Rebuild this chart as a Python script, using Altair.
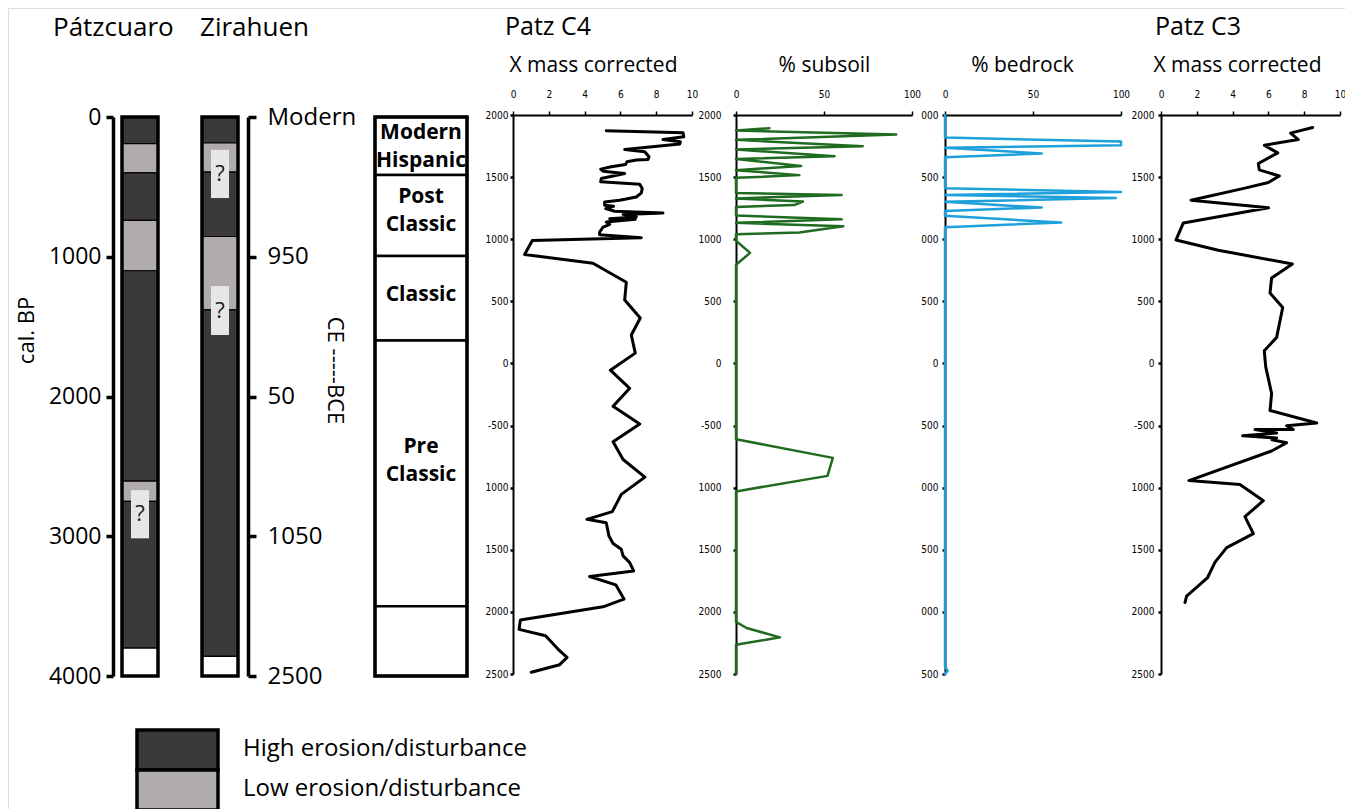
import altair as alt
import pandas as pd

FONT = "Open Sans"
NARROW = "Liberation Sans Narrow, DejaVu Sans Condensed, sans-serif"
W, H = 1337, 801

# ---------------- core columns (cal. BP) ----------------
CORES = ["Pátzcuaro", "Zirahuen"]
PATZ_TOP = [0, 190, 400, 740, 1100, 2605, 2750, 3800]
PATZ_BOT = [190, 400, 740, 1100, 2605, 2750, 3800, 4000]
PATZ_CLASS = ["High", "Low", "High", "Low", "High", "Low", "High", "None"]
ZIR_TOP = [0, 185, 395, 855, 1380, 3860]
ZIR_BOT = [185, 395, 855, 1380, 3860, 4000]
ZIR_CLASS = ["High", "Low", "High", "Low", "High", "None"]
Q_CORE = ["Pátzcuaro", "Zirahuen", "Zirahuen"]
Q_TOP = [2670, 235, 1210]
Q_BOT = [3015, 580, 1560]
BP_TICKS = [0, 1000, 2000, 3000, 4000]
BP_LABELS = ["0", "1000", "2000", "3000", "4000"]
CE_LABELS = ["Modern", "950", "50", "1050", "2500"]

CLASSES = ["High", "Low", "None"]
CLASS_COLORS = ["#3b3a39", "#b0acab", "#ffffff"]
LEGEND_LABELS = ["High erosion/disturbance", "Low erosion/disturbance"]

# ---------------- cultural periods ----------------
PERIODS = ["Modern\nHispanic", "Post\nClassic", "Classic", "Pre\nClassic", ""]
PERIOD_TOP = [0, 415, 995, 1600, 3500]
PERIOD_BOT = [415, 995, 1600, 3500, 4000]
PERIOD_LABEL_BP = [112, 572, 1274, 2361, 3750]   # anchor of first text line

# ---------------- sediment records (year CE/BCE) ----------------
YEAR_TICKS = [2000, 1500, 1000, 500, 0, -500, -1000, -1500, -2000, -2500]
C4_YLABELS = ["2000", "1500", "1000", "500", "0", "-500", "1000", "1500", "2000", "2500"]
SUB_YLABELS = ["2000", "1500", "1000", "500", "0", "-500", "1000", "1500", "2000", "2500"]
BED_YLABELS = ["000", "500", "000", "500", "0", "500", "000", "500", "000", "500"]
C3_YLABELS = ["2000", "1500", "1000", "500", "0", "-500", "1000", "1500", "2000", "2500"]
X10_TICKS = [0, 2, 4, 6, 8, 10]
X100_TICKS = [0, 50, 100]

C4_YEAR = [1873, 1857, 1825, 1803, 1785, 1766, 1723, 1704, 1664, 1642, 1637, 1623, 1602, 1583,
           1564, 1548, 1529, 1489, 1462, 1454, 1443, 1408, 1373, 1340, 1314, 1300, 1273, 1265,
           1246, 1225, 1211, 1200, 1179, 1165, 1160, 1139, 1120, 1098, 1058, 1036, 1012, 990,
           877, 807, 654, 511, 366, 229, 83, -54, -200, -345, -487, -631, -773, -915, -1054,
           -1193, -1255, -1282, -1389, -1450, -1496, -1549, -1603, -1670, -1715, -1782, -1897,
           -1959, -2066, -2141, -2192, -2299, -2366, -2425, -2486]
C4_VAL = [5.21, 9.50, 9.54, 8.38, 9.35, 9.31, 6.24, 7.36, 7.60, 7.54, 6.89, 6.37, 6.29, 5.49,
          4.90, 5.03, 6.24, 4.93, 4.90, 5.77, 7.08, 7.22, 7.17, 6.89, 5.96, 5.12, 5.12, 5.62,
          5.18, 5.68, 8.38, 6.15, 6.89, 5.40, 6.83, 5.21, 5.40, 5.03, 4.84, 4.84, 7.17, 1.08,
          0.65, 4.47, 6.33, 6.24, 7.11, 6.61, 6.83, 5.44, 6.52, 5.59, 7.08, 5.59, 6.15, 7.37,
          6.05, 5.55, 4.13, 5.21, 5.36, 5.59, 6.05, 6.15, 6.52, 6.74, 4.28, 5.74, 6.20, 5.03,
          0.41, 0.34, 1.82, 2.51, 3.02, 2.61, 1.02]

SUB_YEAR = [1894, 1875, 1843, 1800, 1748, 1722, 1668, 1645, 1590, 1556, 1516, 1494, 1372, 1356,
            1328, 1303, 1275, 1260, 1190, 1160, 1132, 1105, 1055, 1040, 988, 890, 795, -610,
            -760, -905, -1030, -2080, -2130, -2205, -2265, -2500]
SUB_VAL = [19, 0, 91, 0, 72, 0, 56, 0, 37, 0, 36, 0, 0, 60, 0, 38, 33, 0, 0, 60, 0, 61, 36, 0,
           0, 8, 0, 0, 55, 52, 0, 0, 6, 25, 0, 0]

BED_YEAR = [2000, 1818, 1787, 1757, 1736, 1690, 1660, 1410, 1380, 1356, 1331, 1301, 1255, 1228,
            1188, 1134, 1097, -2440, -2475, -2500]
BED_VAL = [0, 0, 100, 100, 0, 55, 0, 0, 100, 0, 97, 0, 55, 0, 0, 66, 0, 0, 1.5, 0]

C3_YEAR = [1899, 1854, 1802, 1756, 1695, 1610, 1558, 1509, 1457, 1411, 1314, 1253, 1131, 994,
           911, 801, 688, 567, 451, 210, 103, -28, -242, -379, -480, -501, -532, -532, -560,
           -583, -600, -615, -638, -705, -943, -974, -1105, -1233, -1370, -1483, -1599, -1727,
           -1874, -1925]
C3_VAL = [8.47, 7.24, 7.67, 5.77, 6.52, 5.44, 5.49, 6.61, 6.0, 4.69, 1.68, 6.01, 1.25, 0.84,
          3.2, 7.34, 6.18, 6.09, 6.80, 6.46, 5.77, 5.85, 6.18, 6.09, 8.70, 7.02, 7.39, 5.25,
          6.46, 4.56, 6.46, 6.2, 7.02, 6.18, 1.56, 4.41, 5.72, 4.69, 5.16, 3.67, 3.02, 2.59,
          1.43, 1.34]

HEADERS = ["Pátzcuaro", "Zirahuen", "Patz C4", "Patz C3"]


def lab_expr(values, labels):
    expr = "''"
    for v, l in reversed(list(zip(values, labels))):
        expr = f"datum.value == {v} ? '{l}' : ({expr})"
    return expr


# ---------------- scales ----------------
BP_SCALE = alt.Scale(domain=[0, 4000], range=[109, 668], nice=False, zero=False)
CORE_SCALE = alt.Scale(domain=CORES, range=[114, 230], paddingInner=0.55, paddingOuter=0)
PER_SCALE = alt.Scale(domain=["Period"], range=[367, 459], paddingInner=0, paddingOuter=0)
CLASS_SCALE = alt.Scale(domain=CLASSES, range=CLASS_COLORS)

common_axis = dict(grid=False, labelColor="black", tickColor="black", domainColor="black",
                   labelFlush=False, labelOverlap=False)

BP_AXIS = alt.Axis(orient="left", offset=-105, values=BP_TICKS,
                   labelExpr=lab_expr(BP_TICKS, BP_LABELS), labelFont=FONT, labelFontSize=23,
                   labelPadding=5, tickSize=7, tickWidth=3.5, domainWidth=3.5,
                   title="cal. BP", titleFont=FONT, titleFontSize=22, titleFontWeight="normal",
                   titleColor="black", titleAngle=270, titleX=-87, titleY=322,
                   titleAlign="center", titleBaseline="middle", **common_axis)
CE_AXIS = alt.Axis(orient="right", offset=240 - W, values=BP_TICKS,
                   labelExpr=lab_expr(BP_TICKS, CE_LABELS), labelFont=FONT, labelFontSize=24,
                   labelAlign="left", labelPadding=11, tickSize=8, tickWidth=3.5, domainWidth=3.5,
                   title="CE -----BCE", titleFont=FONT, titleFontSize=22, titleFontWeight="normal",
                   titleColor="black", titleAngle=90, titleX=86, titleY=362,
                   titleAlign="center", titleBaseline="middle", **common_axis)


def core_layer(name, tops, bots, classes, axis):
    seg = pd.DataFrame({"core": name, "top": tops, "bot": bots, "cls": classes})
    qd = pd.DataFrame({"core": [c for c in Q_CORE if c == name],
                       "top": [t for c, t in zip(Q_CORE, Q_TOP) if c == name],
                       "bot": [b for c, b in zip(Q_CORE, Q_BOT) if c == name]})
    qd["mid"] = (qd["top"] + qd["bot"]) / 2
    qd["q"] = "?"
    out = pd.DataFrame({"core": [name], "top": [0], "bot": [4000]})
    x = alt.X("core:N", scale=CORE_SCALE, axis=None)
    segs = alt.Chart(seg).mark_bar(stroke="black", strokeWidth=1.2).encode(
        x=x, y=alt.Y("top:Q", scale=BP_SCALE, axis=axis), y2="bot:Q",
        color=alt.Color("cls:N", scale=CLASS_SCALE, legend=None))
    outline = alt.Chart(out).mark_bar(fillOpacity=0, stroke="black", strokeWidth=3.5).encode(
        x=x, y=alt.Y("top:Q", scale=BP_SCALE, axis=axis), y2="bot:Q")
    qbox = alt.Chart(qd).mark_bar(width=18, color="#e6e6e6").encode(
        x=x, y=alt.Y("top:Q", scale=BP_SCALE, axis=axis), y2="bot:Q")
    qtxt = alt.Chart(qd).mark_text(font=FONT, fontSize=22, color="#1a1a1a", baseline="middle").encode(
        x=x, y=alt.Y("mid:Q", scale=BP_SCALE, axis=axis), text="q:N")
    return alt.layer(segs, outline, qbox, qtxt)


patz = core_layer("Pátzcuaro", PATZ_TOP, PATZ_BOT, PATZ_CLASS, BP_AXIS)
zir = core_layer("Zirahuen", ZIR_TOP, ZIR_BOT, ZIR_CLASS, CE_AXIS)

# periods column
per_df = pd.DataFrame({"col": "Period", "top": PERIOD_TOP, "bot": PERIOD_BOT,
                       "name": PERIODS, "mid": PERIOD_LABEL_BP})
per_x = alt.X("col:N", scale=PER_SCALE, axis=None)
per_rects = alt.Chart(per_df).mark_bar(fill="white", stroke="black", strokeWidth=2.5).encode(
    x=per_x, y=alt.Y("top:Q", scale=BP_SCALE, axis=None), y2="bot:Q")
per_out = alt.Chart(pd.DataFrame({"col": ["Period"], "top": [0], "bot": [4000]})).mark_bar(
    fillOpacity=0, stroke="black", strokeWidth=3.5).encode(
    x=per_x, y=alt.Y("top:Q", scale=BP_SCALE, axis=None), y2="bot:Q")
per_txt = alt.Chart(per_df).mark_text(font=FONT, fontSize=21, fontWeight="bold", lineBreak="\n",
                                      lineHeight=28, baseline="middle", color="black").encode(
    x=per_x, y=alt.Y("mid:Q", scale=BP_SCALE, axis=None), text="name:N")
periods = alt.layer(per_rects, per_out, per_txt)

YTOP, YBOT = 107, 666


def line_panel(vals, years, xdom, xr, xticks, title, title_cx, color, sw, ylabels, lpad):
    df = pd.DataFrame({"v": vals, "yr": years, "i": list(range(len(vals)))})
    xaxis = alt.Axis(orient="top", offset=-YTOP, values=xticks, labelFont=NARROW, labelFontSize=10,
                     labelPadding=12, tickSize=4, tickWidth=1.5, domainWidth=2,
                     title=title, titleFont=FONT, titleFontSize=21, titleFontWeight="normal",
                     titleColor="black", titleX=title_cx, titleY=-50, titleAlign="center",
                     titleBaseline="middle", **common_axis)
    yaxis = alt.Axis(orient="left", offset=-xr[0], values=YEAR_TICKS,
                     labelExpr=lab_expr(YEAR_TICKS, ylabels), labelFont=NARROW, labelFontSize=10,
                     labelPadding=lpad, tickSize=3, tickWidth=2.5, domainWidth=2, title=None,
                     **common_axis)
    return alt.Chart(df).mark_line(color=color, strokeWidth=sw, strokeJoin="round",
                                   strokeCap="round").encode(
        x=alt.X("v:Q", scale=alt.Scale(domain=xdom, range=xr, nice=False, zero=False), axis=xaxis),
        y=alt.Y("yr:Q", scale=alt.Scale(domain=[-2500, 2000], range=[YBOT, YTOP], nice=False,
                                        zero=False), axis=yaxis),
        order="i:Q")


c4 = line_panel(C4_VAL, C4_YEAR, [0, 10], [505, 684], X10_TICKS, "X mass corrected", 585,
                "black", 3, C4_YLABELS, 2)
sub = line_panel(SUB_VAL, SUB_YEAR, [0, 100], [728, 904], X100_TICKS, "% subsoil", 816,
                 "#1f6b1f", 2.5, SUB_YLABELS, 12)
bed = line_panel(BED_VAL, BED_YEAR, [0, 100], [937, 1113], X100_TICKS, "% bedrock", 1014,
                 "#1ea0da", 2.5, BED_YLABELS, 4)
c3 = line_panel(C3_VAL, C3_YEAR, [0, 10], [1153, 1332], X10_TICKS, "X mass corrected", 1229,
                "black", 3, C3_YLABELS, 4)


def header(text, x, y, size):
    return alt.Chart(pd.DataFrame({"t": [text]})).mark_text(
        font=FONT, fontSize=size, align="left", baseline="middle", color="black").encode(
        x=alt.value(x), y=alt.value(y), text="t:N")


headers = alt.layer(header(HEADERS[0], 45, 20, 26), header(HEADERS[1], 192, 20, 26),
                    header(HEADERS[2], 497, 19, 25), header(HEADERS[3], 1147, 19, 25))

# legend
leg_df = pd.DataFrame({"label": LEGEND_LABELS, "cls": ["High", "Low"]})
LEG_SCALE = alt.Scale(domain=LEGEND_LABELS, range=[722, 802], paddingInner=0, paddingOuter=0)
leg_rect = alt.Chart(leg_df).mark_rect(stroke="black", strokeWidth=3.5).encode(
    x=alt.value(129), x2=alt.value(210),
    y=alt.Y("label:N", scale=LEG_SCALE, axis=None),
    color=alt.Color("cls:N", scale=CLASS_SCALE, legend=None))
leg_txt = alt.Chart(leg_df).mark_text(font=FONT, fontSize=24, align="left", baseline="middle",
                                      dy=-1, color="black").encode(
    x=alt.value(235), y=alt.Y("label:N", scale=LEG_SCALE, axis=None), text="label:N")
legend = alt.layer(leg_rect, leg_txt)

chart = alt.layer(patz, zir, periods, c4, sub, bed, c3, headers, legend).resolve_scale(
    x="independent", y="independent").resolve_axis(x="independent", y="independent").properties(
    width=W, height=H, autosize=alt.AutoSizeParams(type="none"), padding=0
).configure_view(strokeWidth=0).configure(background="white")

chart.save("out.html", embed_options={"renderer": "svg", "actions": False})
